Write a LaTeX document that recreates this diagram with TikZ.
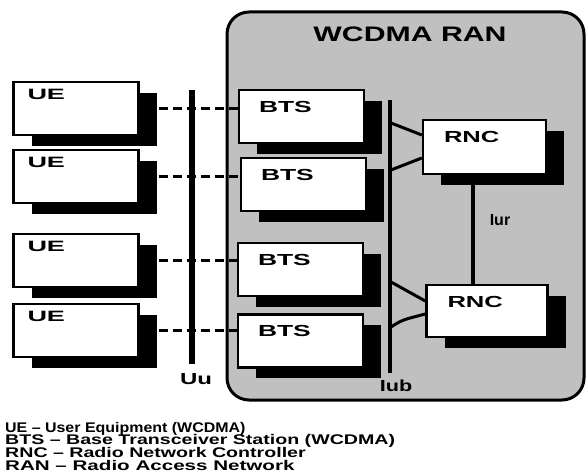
\documentclass[tikz,border=0pt]{standalone}
\usepackage{fontspec}
\setmainfont{Liberation Sans}
\usetikzlibrary{shadows}
\definecolor{rangray}{RGB}{192,192,192}
\newcommand\xw[2]{\scalebox{#1}[1]{#2}}
\begin{document}
\begin{tikzpicture}[x=1pt,y=-1pt,
  box/.style={draw=black, line width=2.4pt, fill=white, inner sep=0pt,
    minimum width=125pt, minimum height=53pt,
    drop shadow={shadow xshift=18pt, shadow yshift=-11pt, fill=black, opacity=1}},
  boxlbl/.style={anchor=north west, inner sep=0pt, font=\fontsize{16}{16}\selectfont\bfseries},
  iflbl/.style={inner sep=0pt, font=\fontsize{16}{16}\selectfont\bfseries},
  bar/.style={line width=5pt},
  link/.style={line width=3pt},
  air/.style={line width=3pt, dash pattern=on 9pt off 5pt}
]
\useasboundingbox (0,0) rectangle (587,473);
% RAN area
\node[draw=black, line width=3pt, fill=rangray, rounded corners=22pt,
      minimum width=357pt, minimum height=388pt, inner sep=0pt] (ran) at (405.5,206) {};
\node[font=\fontsize{21}{21}\selectfont\bfseries, inner sep=0pt] (title) at (410,34.5) {\xw{1.44}{WCDMA RAN}};

% bars
\coordinate (uutop) at (192,90);
\coordinate (uubot) at (192,364);
\coordinate (iubtop) at (390,100);
\coordinate (iubbot) at (390,373);
\draw[bar, line width=6pt] (uutop) -- (uubot);
\draw[bar, line width=4.5pt] (iubtop) -- (iubbot);

% UE boxes
\node[box] (ue1) at (76,108.5) {};
\node[box] (ue2) at (76,176.5) {};
\node[box] (ue3) at (76,260.5) {};
\node[box] (ue4) at (76,330.5) {};
% BTS boxes
\node[box] (bts1) at (301.5,116.5) {};
\node[box] (bts2) at (303.5,184.5) {};
\node[box] (bts3) at (300.5,269.5) {};
\node[box] (bts4) at (300.5,341) {};
% RNC boxes
\node[box, minimum width=123pt, minimum height=54pt] (rnc1) at (484.5,147) {};
\node[box, minimum width=121pt, minimum height=52pt] (rnc2) at (487,311) {};

% labels in boxes
\foreach \n in {ue1,ue2,ue3,ue4}
  \node[boxlbl, font=\fontsize{15}{15}\selectfont\bfseries] (\n l) at ([xshift=15pt,yshift=-8pt]\n.north west) {\xw{1.8}{UE}};
\foreach \n in {bts1,bts2,bts3,bts4}
  \node[boxlbl] (\n l) at ([xshift=21pt,yshift=-12pt]\n.north west) {\xw{1.65}{BTS}};
\foreach \n in {rnc1,rnc2}
  \node[boxlbl] (\n l) at ([xshift=22pt,yshift=-12pt]\n.north west) {\xw{1.6}{RNC}};

% air interface (Uu)
\foreach \i in {1,2,3,4}
  \draw[air] ([xshift=19pt]ue\i.east) -- (ue\i.east -| bts\i.west);

% Iub links
\coordinate (b1) at (391,123);
\coordinate (b2) at (391,170);
\coordinate (b3) at (391,282);
\coordinate (b4) at (391,327);
\draw[link] (b1) -- ([yshift=12pt]rnc1.west);
\draw[link] (b2) -- ([yshift=-11pt]rnc1.west);
\draw[link] (b3) -- ([yshift=10pt]rnc2.west);
\draw[link] (b4) .. controls (402,320) .. ([yshift=-3pt]rnc2.west);

% Iur
\coordinate (iurx) at (473,0);
\draw[line width=4.5pt] (rnc1.south -| iurx) -- (rnc2.north -| iurx);

% interface labels
\node[iflbl] (uu) at (196,379) {\xw{1.5}{Uu}};
\node[iflbl] (iub) at (396,386) {\xw{1.35}{Iub}};
\node[iflbl] (iur) at (500,220) {Iur};

% legend
\node[anchor=north west, inner sep=0pt, align=left,
      font={\fontsize{14}{12.6}\selectfont\bfseries\lineskiplimit=-20pt}] (legend) at (5,422)
  {\xw{1.14}{UE – User Equipment (WCDMA)}\\
   \xw{1.4}{BTS – Base Transceiver Station (WCDMA)}\\
   \xw{1.4}{RNC – Radio Network Controller}\\
   \xw{1.47}{RAN – Radio Access Network}};
\end{tikzpicture}
\end{document}
